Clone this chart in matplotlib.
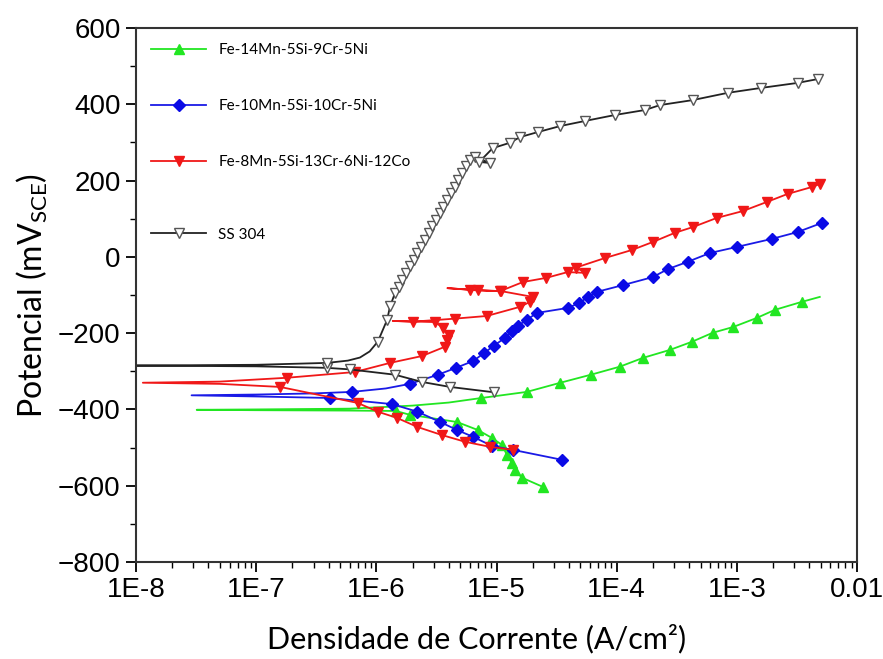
import matplotlib
matplotlib.use("Agg")
import matplotlib.pyplot as plt
from matplotlib.ticker import FixedLocator, LogLocator, MultipleLocator, NullFormatter

# Curvas de polarizacao: densidade de corrente (A/cm2) e potencial (mV_SCE)
# cada curva: ramo catodico (do fim ate Ecorr) seguido do ramo anodico

green_i = [2.43e-5, 1.63e-5, 1.42e-5, 1.34e-5, 1.22e-5, 1.11e-5, 9.2e-6, 7.0e-6, 4.7e-6, 1.9e-6,
           1.45e-6, 6e-7, 1e-7, 3.2e-8,
           1e-7, 6e-7, 2e-6, 4e-6, 7.5e-6, 1.79e-5, 3.4e-5, 6.1e-5, 1.06e-4, 1.65e-4, 2.77e-4,
           4.2e-4, 6.3e-4, 9.3e-4, 1.47e-3, 2.07e-3, 3.47e-3, 4.9e-3]
green_e = [-603, -579, -559, -540, -519, -493, -475, -454, -433, -414,
           -404, -403, -402, -401,
           -400, -398, -390, -382, -370, -354, -330, -309, -288, -265, -244,
           -223, -199, -184, -160, -139, -118, -105]

blue_i = [3.5e-5, 1.37e-5, 9.2e-6, 6.4e-6, 4.7e-6, 3.4e-6, 2.2e-6, 1.35e-6, 4.1e-7, 1e-7, 2.9e-8,
          1e-7, 3e-7, 6.3e-7, 1.2e-6, 1.9e-6, 3.26e-6, 4.6e-6, 6.4e-6, 7.9e-6, 9.5e-6, 1.17e-5,
          1.35e-5, 1.5e-5, 1.79e-5, 2.17e-5, 3.9e-5, 4.9e-5, 5.75e-5, 6.8e-5, 1.13e-4, 2.0e-4,
          2.67e-4, 3.9e-4, 5.96e-4, 1.0e-3, 1.95e-3, 3.2e-3, 5.1e-3]
blue_e = [-532, -506, -496, -472, -454, -433, -406, -386, -370, -366, -363,
          -361, -358, -354, -345, -333, -309, -291, -273, -252, -233, -213,
          -194, -181, -165, -147, -134, -121, -105, -92, -74, -53,
          -32, -13, 10, 26, 47, 65, 89]

red_i = [1.37e-5, 8.8e-6, 5.5e-6, 3.5e-6, 2.2e-6, 1.48e-6, 1.03e-6, 7e-7, 1.58e-7, 5e-8, 1.14e-8,
         5e-8, 1.8e-7, 6.6e-7, 1.3e-6, 2.4e-6, 3.7e-6, 3.9e-6, 4.0e-6, 3.6e-6, 3.07e-6,
         1.37e-6, 2.0e-6, 4.5e-6, 8.3e-6, 1.57e-5, 1.9e-5, 2.0e-5, 1.1e-5, 6e-6, 3.9e-6,
         7e-6, 1.07e-5, 1.66e-5, 2.6e-5, 3.9e-5, 5.5e-5, 4.6e-5, 8e-5, 1.34e-4, 2.0e-4,
         3.05e-4, 4.3e-4, 6.8e-4, 1.12e-3, 1.78e-3, 2.65e-3, 4.2e-3, 4.9e-3]
red_e = [-506, -498, -485, -467, -446, -422, -406, -383, -341, -333, -330,
         -327, -317, -302, -278, -260, -236, -218, -205, -186, -171,
         -168, -170, -162, -155, -131, -118, -105, -90, -86, -82,
         -88, -90, -66, -55, -40, -42, -28, -3, 18, 39,
         63, 78, 102, 120, 144, 165, 183, 191]

black_i = [9.5e-6, 4.1e-6, 2.4e-6, 1.43e-6, 6e-7, 3.9e-7, 1e-7, 1e-8,
           1e-7, 3.9e-7, 5.8e-7, 7.3e-7, 8.8e-7, 1.03e-6, 1.23e-6, 1.3e-6,
           1.43e-6, 1.53e-6, 1.65e-6, 1.77e-6, 1.90e-6, 2.04e-6, 2.19e-6, 2.36e-6, 2.53e-6,
           2.72e-6, 2.92e-6, 3.14e-6, 3.37e-6, 3.62e-6, 3.89e-6, 4.18e-6, 4.49e-6, 4.82e-6,
           5.18e-6, 5.57e-6, 6.0e-6,
           6.6e-6, 8.8e-6, 7.2e-6, 9.3e-6, 1.29e-5, 1.57e-5, 2.2e-5, 3.4e-5, 5.4e-5, 9.7e-5,
           1.72e-4, 2.3e-4, 4.3e-4, 8.4e-4, 1.6e-3, 3.2e-3, 4.7e-3]
black_e = [-355, -341, -328, -309, -295, -291, -287, -285,
           -283, -278, -272, -264, -248, -222, -165, -130,
           -95, -78, -60, -43, -25, -8, 10, 27, 45,
           62, 80, 97, 114, 132, 149, 167, 184, 202,
           219, 237, 254,
           262, 246, 249, 285, 299, 314, 327, 343, 356, 372,
           385, 398, 411, 430, 443, 456, 466]

labels = ["Fe-14Mn-5Si-9Cr-5Ni", "Fe-10Mn-5Si-10Cr-5Ni", "Fe-8Mn-5Si-13Cr-6Ni-12Co", "SS 304"]

# pontos sem marcador (perto de Ecorr)
green_skip = [11, 12, 13, 14, 15, 16, 17, 31]
blue_skip = [9, 10, 11, 12, 14]
red_skip = [9, 10, 11, 21, 30]
black_skip = [6, 7, 8, 10, 11, 12]

tick_font = "Liberation Sans"
label_font = "Lato"

fig = plt.figure(figsize=(8.83, 6.59), dpi=100)
ax = fig.add_axes([136 / 883, 1 - 562 / 659, (857 - 136) / 883, (562 - 28) / 659])


def every(n, skip):
    return [k for k in range(n) if k not in skip]


l1, = ax.plot(green_i, green_e, color="#22e622", lw=1.3, marker="^", ms=7, mfc="#22e622", mec="#22e622",
              markevery=every(len(green_i), green_skip))
l2, = ax.plot(blue_i, blue_e, color="#1a1ae6", lw=1.3, marker="D", ms=6, mfc="#0a0ae6", mec="#0a0ae6",
              markevery=every(len(blue_i), blue_skip))
l3, = ax.plot(red_i, red_e, color="#f01818", lw=1.3, marker="v", ms=7, mfc="#f01818", mec="#f01818",
              markevery=every(len(red_i), red_skip))
l4, = ax.plot(black_i, black_e, color="#222222", lw=1.3, marker="v", ms=7.5, mfc="white", mec="#555555",
              mew=1.0, markevery=every(len(black_i), black_skip))

ax.set_xscale("log")
ax.set_xlim(1e-8, 1e-2)
ax.set_ylim(-800, 600)

ax.xaxis.set_major_locator(FixedLocator([1e-8, 1e-7, 1e-6, 1e-5, 1e-4, 1e-3, 1e-2]))
ax.set_xticklabels(["1E-8", "1E-7", "1E-6", "1E-5", "1E-4", "1E-3", "0.01"])
ax.xaxis.set_minor_locator(LogLocator(base=10, subs=range(2, 10), numticks=20))
ax.xaxis.set_minor_formatter(NullFormatter())
ax.yaxis.set_major_locator(MultipleLocator(200))
ax.yaxis.set_minor_locator(MultipleLocator(100))

ax.tick_params(which="major", direction="out", length=7, width=1.3, labelsize=20, pad=4)
ax.tick_params(which="minor", direction="out", length=4, width=1.0)
for lab in ax.get_xticklabels() + ax.get_yticklabels():
    lab.set_fontfamily(tick_font)
for s in ax.spines.values():
    s.set_linewidth(1.5)
    s.set_color("#333333")

ax.set_xlabel("Densidade de Corrente (A/cm²)", fontsize=22, family=label_font)
ax.xaxis.set_label_coords(0.472, -0.115)
ax.set_ylabel(r"Potencial (mV$_{\mathregular{SCE}}$)", fontsize=23, family=label_font, labelpad=6)

prop = {"family": label_font, "size": 11}
leg = ax.legend([l1, l2, l3], labels[:3], loc="upper left", frameon=False, handlelength=3.6,
                labelspacing=2.75, borderaxespad=0.6, prop=prop)
ax.add_artist(leg)
ax.legend([l4], labels[3:], loc="upper left", bbox_to_anchor=(0.0, 0.655), frameon=False,
          handlelength=3.6, borderaxespad=0.6, prop=prop)

fig.savefig("out.png", dpi=100)
